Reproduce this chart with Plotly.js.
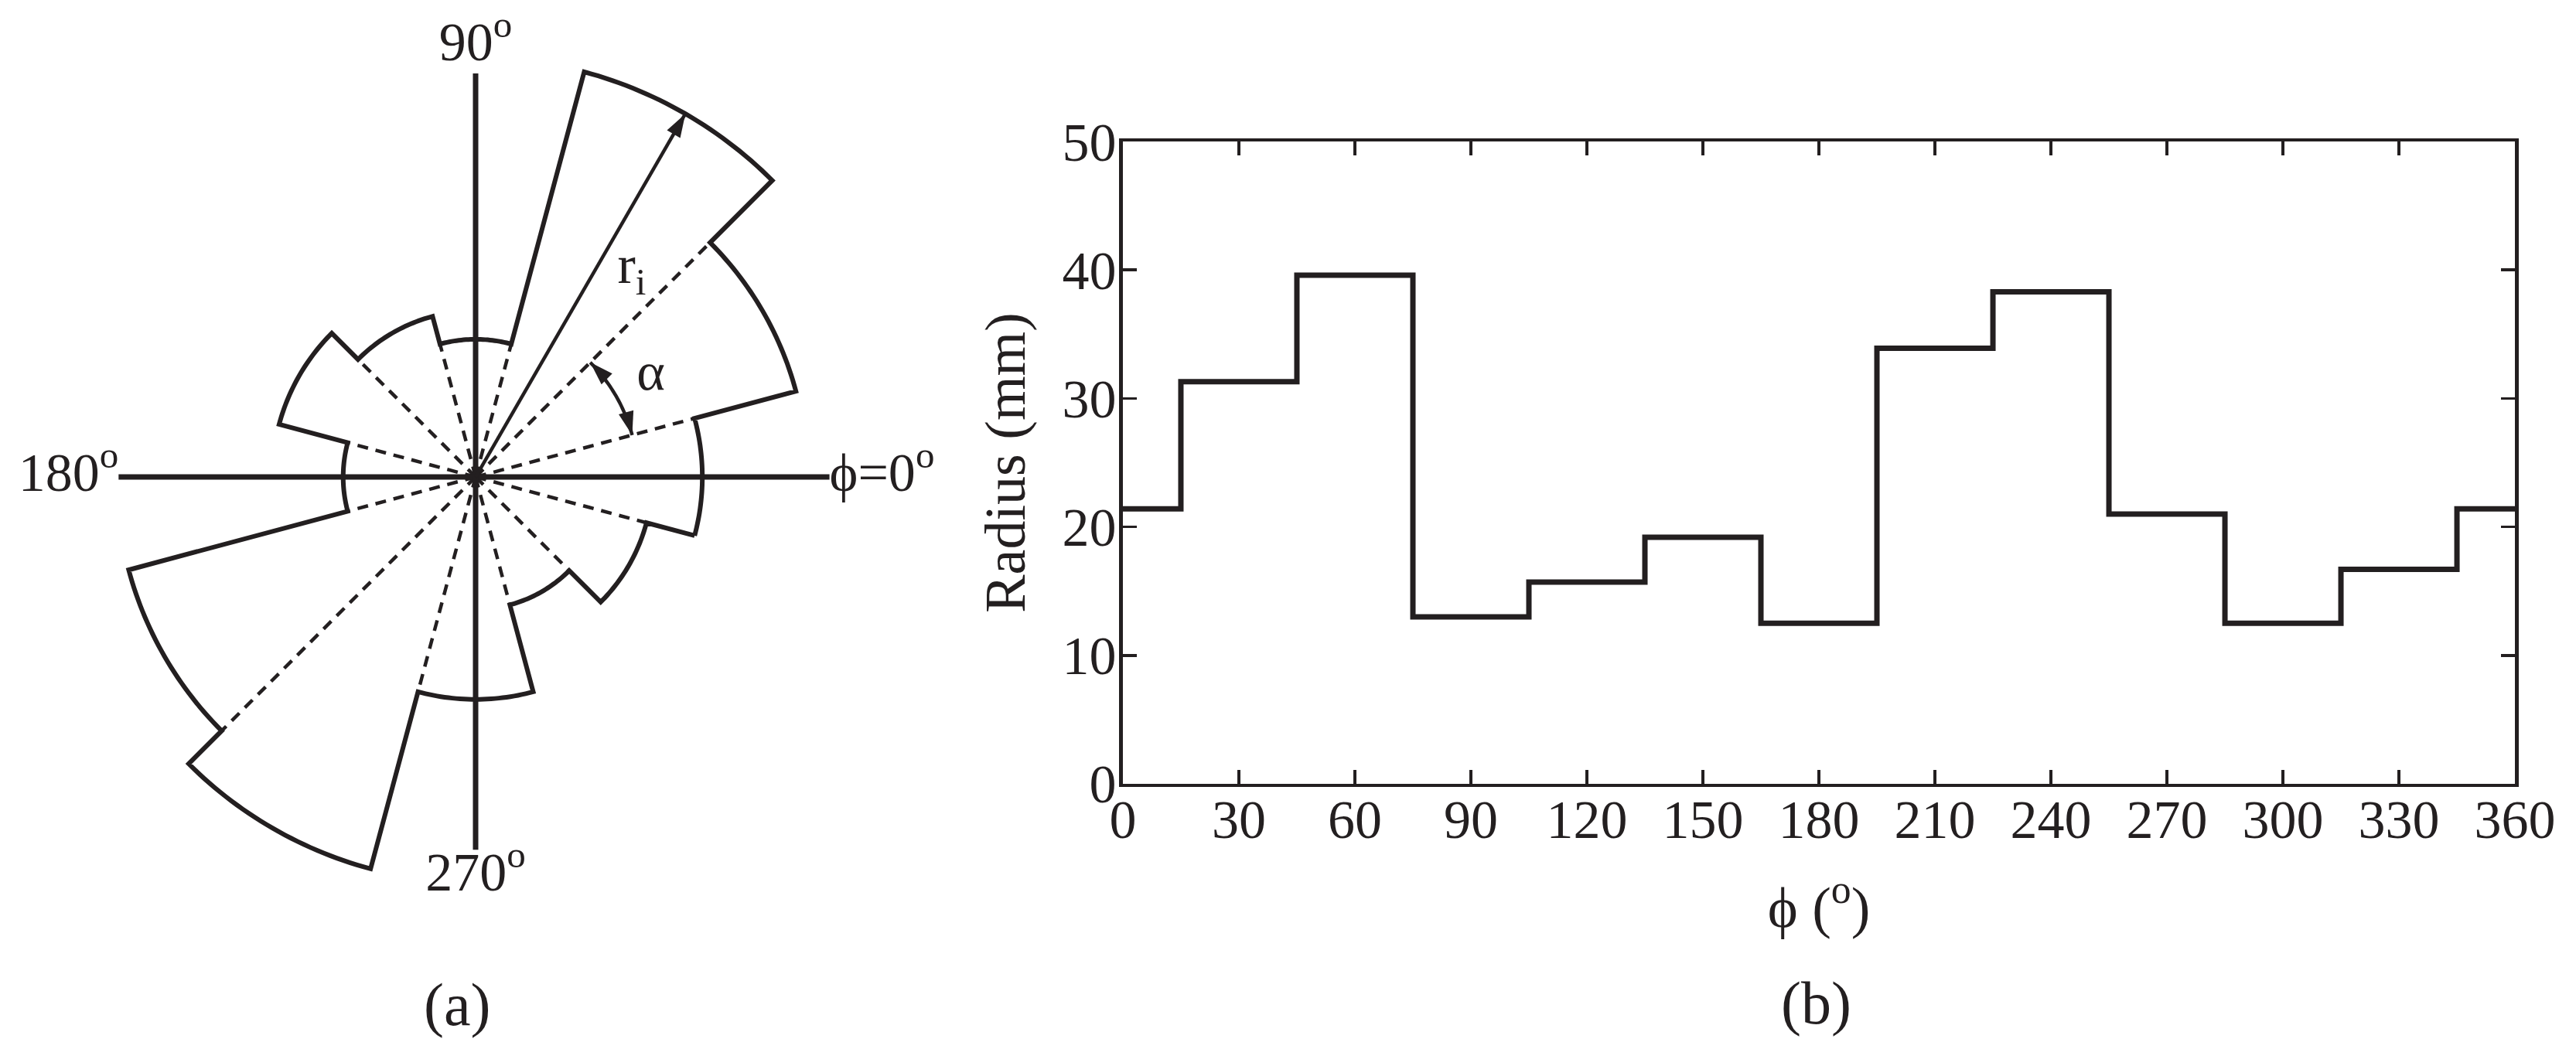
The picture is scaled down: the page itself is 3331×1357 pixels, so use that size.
<!DOCTYPE html>
<html>
<head>
<meta charset="utf-8">
<script src="https://cdn.plot.ly/plotly-3.0.1.min.js"></script>
<style>
  html, body { margin: 0; padding: 0; background: #fff; }
  #chart { width: 3331px; height: 1357px; }
</style>
</head>
<body>
<div id="chart"></div>
<script>
// 30 deg bins: bin centre angle (deg) and measured radius (mm)
const sectorAngles = [0, 30, 60, 90, 120, 150, 180, 210, 240, 270, 300, 330];
const sectorRadius = [21.4, 31.3, 39.6, 13.0, 15.7, 19.2, 12.5, 33.9, 38.3, 21.0, 12.5, 16.7];
const binWidth = 30;

// tick values for panel (b)
const phiTicks = [0, 30, 60, 90, 120, 150, 180, 210, 240, 270, 300, 330, 360];
const radiusTicks = [0, 10, 20, 30, 40, 50];

// reference axes of panel (a): direction and length (mm)
const axisAngles = [0, 90, 180, 270];
const axisLengths = [33.4, 38.1, 33.7, 35.2];
const axisLabels = ['\u03d5=0<sup>o</sup>', '90<sup>o</sup>', '180<sup>o</sup>', '270<sup>o</sup>'];
const axisLabelPos = ['middle right', 'top center', 'middle left', 'bottom center'];

// r_i arrow points at the 60 deg bin, alpha arc spans one bin
const arrowBin = 2;
const alphaRadius = 15.3;

const ink = '#231f20';
const serif = 'Liberation Serif, "Times New Roman", serif';
const half = binWidth / 2;

// outline of the rose: arc over each bin, radial step between bins
const outlineTheta = [];
const outlineR = [];
sectorAngles.forEach((a, i) => {
    for (let t = a - half; t <= a + half; t += 1) {
        outlineTheta.push(t);
        outlineR.push(sectorRadius[i]);
    }
});
outlineTheta.push(outlineTheta[0]);
outlineR.push(outlineR[0]);

// dashed bin borders, out to the shorter of the two neighbours
const dashTheta = [];
const dashR = [];
sectorAngles.forEach((a, i) => {
    const next = sectorRadius[(i + 1) % sectorAngles.length];
    dashTheta.push(a + half, a + half, null);
    dashR.push(0, Math.min(sectorRadius[i], next), null);
});

const axTheta = [];
const axR = [];
axisAngles.forEach((a, i) => {
    axTheta.push(a, a, null);
    axR.push(0, axisLengths[i], null);
});

// alpha arc between the borders of the 30 deg bin
const alphaStart = sectorAngles[1] - half;
const alphaEnd = sectorAngles[1] + half;
const alphaTheta = [];
for (let t = alphaStart; t <= alphaEnd; t += 1) alphaTheta.push(t);

const arrowAngle = sectorAngles[arrowBin];

const traces = [
    {
        type: 'scatterpolar', mode: 'lines',
        r: dashR, theta: dashTheta, connectgaps: false,
        line: { color: ink, width: 4.5, dash: '14px,10px' }
    },
    {
        type: 'scatterpolar', mode: 'lines',
        r: axR, theta: axTheta, connectgaps: false,
        line: { color: ink, width: 7 }
    },
    {
        type: 'scatterpolar', mode: 'lines',
        r: outlineR, theta: outlineTheta,
        line: { color: ink, width: 6 }
    },
    // r_i arrow
    {
        type: 'scatterpolar', mode: 'lines',
        r: [0, sectorRadius[arrowBin]], theta: [arrowAngle, arrowAngle],
        line: { color: ink, width: 4.5 }
    },
    {
        type: 'scatterpolar', mode: 'markers', cliponaxis: false,
        r: [sectorRadius[arrowBin]], theta: [arrowAngle],
        marker: { symbol: 'arrow', size: 32, angle: [90 - arrowAngle], color: ink, line: { width: 0 } }
    },
    // alpha double arrow
    {
        type: 'scatterpolar', mode: 'lines',
        r: alphaTheta.map(() => alphaRadius), theta: alphaTheta,
        line: { color: ink, width: 4.5 }
    },
    {
        type: 'scatterpolar', mode: 'markers', cliponaxis: false,
        r: [alphaRadius, alphaRadius], theta: [alphaEnd, alphaStart],
        marker: {
            symbol: 'arrow', size: 32, color: ink, line: { width: 0 },
            angle: [90 - (alphaEnd + 90), 90 - (alphaStart - 90)]
        }
    },
    // labels of panel (a)
    {
        type: 'scatterpolar', mode: 'text', cliponaxis: false,
        r: axisLengths, theta: axisAngles,
        text: axisLabels, textposition: axisLabelPos,
        textfont: { family: serif, size: 70, color: ink }
    },
    {
        type: 'scatterpolar', mode: 'text', cliponaxis: false,
        r: [24.5, 19.1], theta: [53, 30],
        text: ['r<sub>i</sub>', '\u03b1'], textposition: 'middle center',
        textfont: { family: serif, size: 70, color: ink }
    },
    // panel (b): radius against phi as steps over the bin borders
    {
        type: 'scatter', mode: 'lines', xaxis: 'x', yaxis: 'y',
        x: [0].concat(sectorAngles.map(a => a + half), [360]),
        y: sectorRadius.concat([sectorRadius[0], sectorRadius[0]]),
        line: { color: ink, width: 7, shape: 'hv' }
    }
];

const axisCommon = {
    ticks: 'inside', ticklen: 18, tickwidth: 3.5, tickcolor: ink,
    showline: true, linewidth: 4.5, linecolor: ink, mirror: 'ticks',
    showgrid: false, zeroline: false,
    tickfont: { family: serif, size: 70, color: ink }
};
const titleFont = { family: serif, size: 74, color: ink };

const layout = {
    width: 3331, height: 1357,
    margin: { l: 0, r: 0, t: 0, b: 0 },
    paper_bgcolor: 'white', plot_bgcolor: 'white',
    showlegend: false,
    font: { family: serif, size: 70, color: ink },
    polar: {
        domain: { x: [0.00366, 0.3656], y: [0.1011, 0.9895] },
        bgcolor: 'white',
        radialaxis: { visible: false, range: [0, 44] },
        angularaxis: { visible: false }
    },
    xaxis: Object.assign({}, axisCommon, {
        domain: [0.4359, 0.9763], range: [0, 360],
        tickvals: phiTicks, ticklabelstandoff: -18,
        title: { text: '\u03d5 (<sup>o</sup>)', standoff: 50, font: titleFont }
    }),
    yaxis: Object.assign({}, axisCommon, {
        domain: [0.2528, 0.8651], range: [0, 50],
        tickvals: radiusTicks, ticklabelstandoff: -10,
        title: { text: 'Radius (mm)', standoff: 25, font: titleFont }
    }),
    annotations: [
        { text: '(a)', xref: 'paper', yref: 'paper', x: 0.1777, y: 0.0427,
          xanchor: 'center', yanchor: 'middle', showarrow: false,
          font: { family: serif, size: 78, color: ink } },
        { text: '(b)', xref: 'paper', yref: 'paper', x: 0.7049, y: 0.0435,
          xanchor: 'center', yanchor: 'middle', showarrow: false,
          font: { family: serif, size: 78, color: ink } }
    ]
};

Plotly.newPlot('chart', traces, layout, { displayModeBar: false, staticPlot: true });
</script>
</body>
</html>
